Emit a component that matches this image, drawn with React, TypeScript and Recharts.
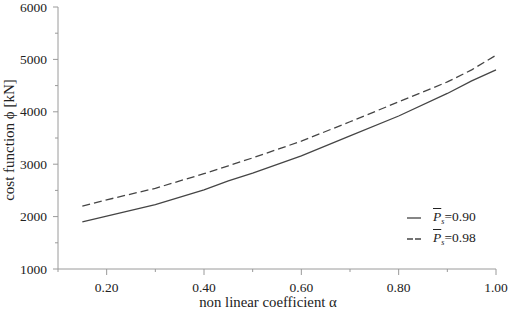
import React from 'react'
import { LineChart, Line, XAxis, YAxis } from 'recharts'

const alphaValues = [0.15, 0.2, 0.3, 0.4, 0.45, 0.5, 0.6, 0.7, 0.8, 0.9, 0.95, 1.0]
const cost090 = [1900, 2010, 2230, 2510, 2680, 2830, 3160, 3540, 3920, 4350, 4590, 4800]
const cost098 = [2200, 2320, 2540, 2820, 2970, 3120, 3440, 3810, 4190, 4570, 4800, 5080]

const xTicks = [0.1, 0.2, 0.3, 0.4, 0.5, 0.6, 0.7, 0.8, 0.9, 1.0]
const xLabelTicks = ['0.20', '0.40', '0.60', '0.80', '1.00']
const yTicks = [1000, 1500, 2000, 2500, 3000, 3500, 4000, 4500, 5000, 5500, 6000]

const data = alphaValues.map((a, i) => ({ alpha: a, p090: cost090[i], p098: cost098[i] }))

const font = 'Liberation Serif, Tinos, Times, serif'
const axisColor = '#9a9a9a'
const lineColor = '#454545'

const XTick = (props: any) => {
  const { x, y, payload } = props
  const label = payload.value.toFixed(2)
  const major = xLabelTicks.includes(label)
  return (
    <g>
      <line x1={x} x2={x} y1={y} y2={y + (major ? 6 : 3)} stroke={axisColor} />
      {major && (
        <text x={x} y={y + 23} textAnchor="middle" fontSize={13.5} style={{ fontFamily: font }} fill="#222">
          {label}
        </text>
      )}
    </g>
  )
}

const YTick = (props: any) => {
  const { x, y, payload } = props
  const major = payload.value % 1000 === 0
  return (
    <g>
      <line x1={x - (major ? 5 : 3)} x2={x} y1={y} y2={y} stroke={axisColor} />
      {major && (
        <text x={x - 11} y={y + 4.5} textAnchor="end" fontSize={13.5} style={{ fontFamily: font }} fill="#222">
          {payload.value}
        </text>
      )}
    </g>
  )
}

const PLabel = ({ value }: { value: string }) => (
  <span style={{ fontFamily: font, fontSize: 13.5, color: '#222' }}>
    <i style={{ textDecoration: 'overline' }}>P</i>
    <i style={{ fontSize: 8, verticalAlign: -3 }}>s</i>={value}
  </span>
)

export default function App() {
  return (
    <div style={{ position: 'absolute', left: 0, top: 0, width: 510, height: 312, background: '#fff', fontFamily: font }}>
      <LineChart width={510} height={312} data={data} margin={{ top: 7, right: 14, left: 0, bottom: 0 }}>
        <XAxis
          dataKey="alpha"
          type="number"
          domain={[0.1, 1.0]}
          ticks={xTicks}
          interval={0}
          height={43}
          tickSize={0}
          tickMargin={0}
          tickLine={false}
          axisLine={{ stroke: axisColor }}
          tick={<XTick />}
          label={{
            content: (p: any) => (
              <text x={p.viewBox.x + 210} y={p.viewBox.y + 38} textAnchor="middle" fontSize={14.8} style={{ fontFamily: font }} fill="#222">
                non linear coefficient  α
              </text>
            ),
          }}
        />
        <YAxis
          type="number"
          domain={[1000, 6000]}
          ticks={yTicks}
          interval={0}
          width={58}
          tickSize={0}
          tickMargin={0}
          tickLine={false}
          axisLine={{ stroke: axisColor }}
          tick={<YTick />}
          label={{
            content: (p: any) => (
              <text
                x={p.viewBox.x + 14}
                y={p.viewBox.y + 133}
                textAnchor="middle"
                fontSize={15}
                style={{ fontFamily: font }}
                fill="#222"
                transform={`rotate(-90, ${p.viewBox.x + 14}, ${p.viewBox.y + 133})`}
              >
                cost function ϕ [kN]
              </text>
            ),
          }}
        />
        <Line dataKey="p090" type="linear" stroke={lineColor} strokeWidth={1.3} dot={false} isAnimationActive={false} />
        <Line dataKey="p098" type="linear" stroke={lineColor} strokeWidth={1.3} strokeDasharray="8 4" dot={false} isAnimationActive={false} />
      </LineChart>
      <div style={{ position: 'absolute', left: 405, top: 207 }}>
        <div style={{ display: 'flex', alignItems: 'center', height: 21 }}>
          <svg width={28} height={10}>
            <line x1={2} x2={16} y1={5} y2={5} stroke={lineColor} strokeWidth={1.3} />
          </svg>
          <PLabel value="0.90" />
        </div>
        <div style={{ display: 'flex', alignItems: 'center', height: 21 }}>
          <svg width={28} height={10}>
            <line x1={2} x2={16} y1={5} y2={5} stroke={lineColor} strokeWidth={1.3} strokeDasharray="6 2" />
          </svg>
          <PLabel value="0.98" />
        </div>
      </div>
    </div>
  )
}
